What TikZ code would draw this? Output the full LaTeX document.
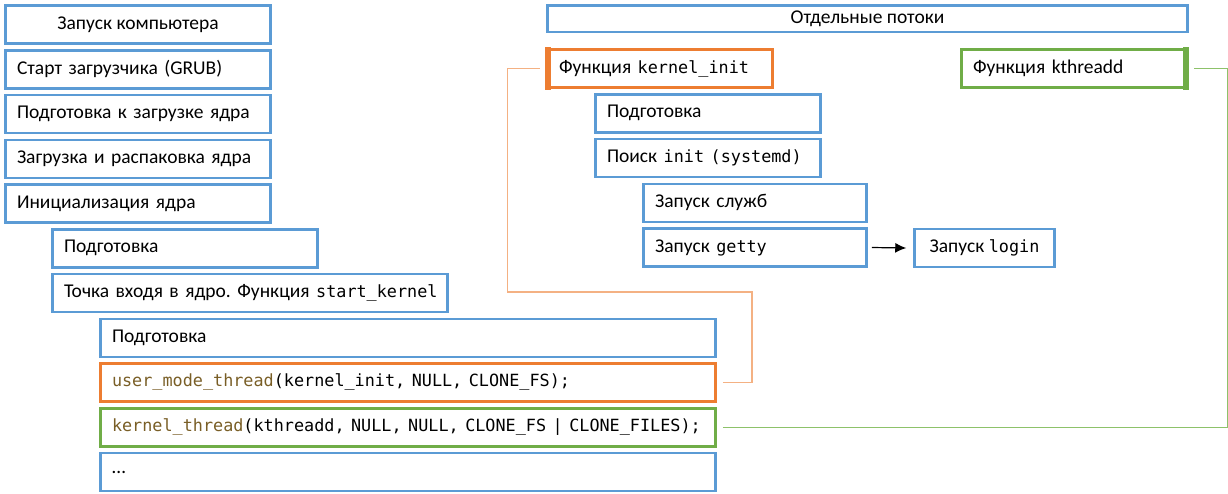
\documentclass[tikz,border=0pt]{standalone}
\usepackage{fontspec}
\setmainfont{Carlito}
\setmonofont{DejaVu Sans Mono}
\usepackage{tikz}
\tikzset{>=latex}
\usetikzlibrary{calc}
\usetikzlibrary{arrows.meta}
\definecolor{stageblue}{HTML}{5B9BD5}
\definecolor{threadorange}{HTML}{ED7D31}
\definecolor{threadgreen}{HTML}{70AD47}
\definecolor{linkorange}{HTML}{F4B183}
\definecolor{linkgreen}{HTML}{8DC26A}
\definecolor{funcbrown}{HTML}{795E26}
\frenchspacing
\newcommand{\code}[1]{{\fontsize{16.8}{20}\selectfont\ttfamily #1}}
\newcommand{\fname}[1]{\textcolor{funcbrown}{#1}}
\tikzset{
    stage/.style={draw=stageblue, line width=2.5pt, anchor=north west, minimum height=38pt,
        inner xsep=11.5pt, inner ysep=0pt, align=left, font=\fontsize{19.5}{22}\selectfont},
    midstage/.style={stage, align=center, inner xsep=0pt},
    link/.style={line width=1.5pt}
}

\begin{document}
\begin{tikzpicture}[x=1pt, y=-1pt]
                \useasboundingbox (0, 0) rectangle (1228, 493);
                % boot sequence
                \node[midstage, minimum width=265pt] (boot) at (4.25, 4.25) {Запуск компьютера};
                \node[stage, text width=242pt] (grub) at (4.25, 49) {Старт загрузчика (GRUB)};
                \node[stage, text width=242pt] (preload) at (4.25, 93.75) {Подготовка к загрузке ядра};
                \node[stage, text width=242pt] (unpack) at (4.25, 138.5) {Загрузка и распаковка ядра};
                \node[stage, text width=242pt] (kinit0) at (4.25, 183.25) {Инициализация ядра};
                \node[stage, text width=242pt] (kprep) at (51.25, 228) {Подготовка};
                \node[stage, text width=372pt] (entry) at (51.25, 272.75) {\mbox{Точка входя в ядро. Функция \code{start\_kernel}}};
                \node[stage, text width=592pt] (sprep) at (99.25, 317.5) {Подготовка};
                \node[stage, text width=592pt, draw=threadorange] (umt) at (99.25, 362.25)
                    {\mbox{\code{\fname{user\_mode\_thread}(kernel\_init, NULL, CLONE\_FS);}}};
                \node[stage, text width=592pt, draw=threadgreen] (kt) at (99.25, 407)
                    {\mbox{\code{\fname{kernel\_thread}(kthreadd, NULL, NULL, CLONE\_FS | CLONE\_FILES);}}};
                \node[stage, text width=592pt] (rest) at (99.25, 451.75) {…};
                % separate threads
                \node[midstage, minimum width=640pt, minimum height=26.5pt] (threads) at (546.25, 4.25) {Отдельные потоки};
                \node[stage, text width=202pt, draw=threadorange] (kinit) at (546.25, 48.25) {\mbox{Функция \code{kernel\_init}}};
                \node[stage, text width=202pt] (iprep) at (594.25, 93) {Подготовка};
                \node[stage, text width=202pt] (search) at (594.25, 137.75) {\mbox{Поиск \code{init (systemd)}}};
                \node[stage, text width=200pt] (services) at (642.25, 182.5) {Запуск служб};
                \node[stage, text width=200pt] (getty) at (642.25, 227.25) {Запуск \code{getty}};
                \node[midstage, minimum width=140pt] (login) at (913.25, 227.75) {Запуск \code{login}};
                \node[stage, text width=202pt, draw=threadgreen] (kthreadd) at (960.25, 48.25) {Функция kthreadd};
                \fill[threadorange] ([xshift=-1.25pt, yshift=1.25pt]kinit.north west) rectangle ([xshift=4.75pt, yshift=-1.25pt]kinit.south west);
                \fill[threadgreen] ([xshift=-4.75pt, yshift=1.25pt]kthreadd.north east) rectangle ([xshift=1.25pt, yshift=-1.25pt]kthreadd.south east);
                % connectors
                \coordinate (uleft) at ([xshift=-39pt]kinit.west);
                \coordinate (ubend) at (752, 292);
                \draw[link, linkorange] ([xshift=6pt]umt.east) -| (ubend) -| (uleft) -- ([xshift=-6pt]kinit.west);
                \coordinate (kright) at ([xshift=40pt]kthreadd.east);
                \draw[link, linkgreen] ([xshift=6pt]kt.east) -| (kright) -- ([xshift=6pt]kthreadd.east);
                \draw[-{Latex[length=11pt, width=10pt]}, line width=1.2pt] ([xshift=4pt]getty.east) -- ([xshift=-7pt]login.west);
            \end{tikzpicture}
\end{document}
